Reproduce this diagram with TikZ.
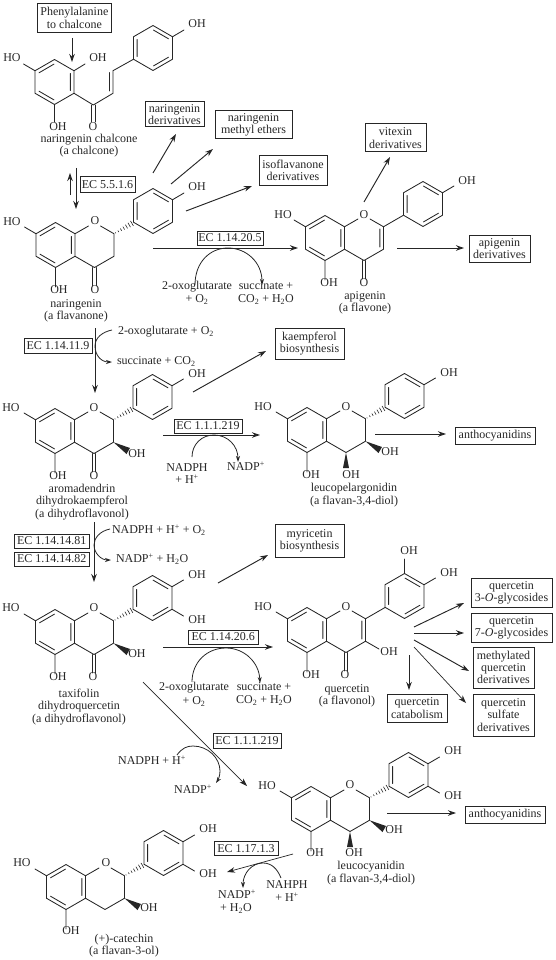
\documentclass[tikz,border=0pt]{standalone}
\usepackage{fontspec}
\setmainfont{Liberation Serif}
\usetikzlibrary{arrows.meta}
\newcounter{lbn}
\tikzset{
  x=1pt,y=-1pt,
  bond/.style={line width=0.85pt,line cap=round,line join=round,black!85},
  lab/.style={inner sep=0pt,outer sep=0pt,text height=8pt,text depth=2.6pt,font=\fontsize{12}{12.3}\selectfont,text=black!85},
  boxst/.style={draw=black!85,line width=1pt,inner sep=0pt,outer sep=0pt,align=center,font=\fontsize{12}{12.3}\selectfont,text=black!85},
  arr/.style={line width=0.95pt,black!85,-{Stealth[length=8pt,width=5.5pt]}},
  thinarr/.style={line width=0.7pt,black!85,-{Stealth[length=8pt,width=5.5pt]}},
  cur/.style={line width=0.8pt,black!85,-{Stealth[length=6pt,width=4pt]}},
}
% label
\newcommand{\lbl}[3]{\stepcounter{lbn}\node[lab] (lb\thelbn) at (#1,#2) {#3};}
% box from corners
\newcommand{\bx}[6]{\pgfmathsetmacro{\bw}{#4-#2}\pgfmathsetmacro{\bh}{#5-#3}%
  \node[boxst,minimum width=\bw pt,minimum height=\bh pt] (#1) at ({(#2+#4)/2},{(#3+#5)/2}) {#6};}
% straight arrow between named free-end coordinates
\newcommand{\arw}[4][arr]{\coordinate (#2a) at (#3);\coordinate (#2b) at (#4);\draw[#1] (#2a) -- (#2b);}
% rings
\newcommand{\ringA}{%
  \draw[bond] (0,-22.5)--(19.5,-11.25)--(19.5,11.25)--(0,22.5)--(-19.5,11.25)--(-19.5,-11.25)--cycle;
  \draw[bond] (-15.5,-9.2)--(-0.5,-17.9) (15.9,-8.5)--(15.9,8.5) (-15.5,9.2)--(-0.5,17.9);}
\newcommand{\ringB}{%
  \draw[bond] (0,-22.5)--(19.5,-11.25)--(19.5,11.25)--(0,22.5)--(-19.5,11.25)--(-19.5,-11.25)--cycle;
  \draw[bond] (-15.9,-8.5)--(-15.9,8.5) (0.5,-17.9)--(15.5,-9.2) (0.5,17.9)--(15.5,9.2);}
% common A ring + pyran, HO and OH stubs
\newcommand{\pyran}{%
  \ringA
  \draw[bond] (19.5,-11.25)--(33,-19) (45,-19)--(58.5,-11.25)--(58.5,11.25)--(39,22.5)--(19.5,11.25);
  \draw[bond] (-19.5,-11.25)--(-31,-18) (0,22.5)--(0,42);}
\newcommand{\hashb}{%
  \foreach \t in {0.08,0.22,0.36,0.50,0.64,0.78,0.92}{%
    \pgfmathsetmacro{\hx}{58.5+19.5*\t}\pgfmathsetmacro{\hy}{-11.25-11.25*\t}\pgfmathsetmacro{\hw}{0.3+2.8*\t}
    \draw[line width=0.6pt,black!85] ({\hx-0.5*\hw},{\hy-0.866*\hw})--({\hx+0.5*\hw},{\hy+0.866*\hw});}}
\newcommand{\ketone}{\draw[bond] (37.3,22.5)--(37.3,41) (40.9,22.5)--(40.9,41);}
\newcommand{\wedgeC}{\fill[black!85] (58.5,11.25)--(75,17)--(71.5,23)--cycle;}
\newcommand{\wedgeD}{\fill[black!85] (39,22.5)--(36,38)--(42,38)--cycle;}
\newcommand{\ohTop}{\draw[bond] (0,-22.5)--(0,-37);}
\newcommand{\ohUR}{\draw[bond] (19.5,-11.25)--(31,-18);}
\newcommand{\ohLR}{\draw[bond] (19.5,11.25)--(31,18);}
\begin{document}
\begin{tikzpicture}
\useasboundingbox (0,0) rectangle (556,960);
% ---------- chalcone
\begin{scope}[shift={(54.5,82)}]\ringA\end{scope}
\begin{scope}[shift={(153,48)}]\ringB\ohUR\end{scope}
\draw[bond] (74,93.25)--(93.3,105)--(113,93.3)--(113,70.7)--(133.5,59.25);
\draw[bond] (109.5,91)--(109.5,72.5);
\draw[bond] (91.5,105)--(91.5,122) (95.1,105)--(95.1,122);
\draw[bond] (35,70.75)--(23.5,64) (74,70.75)--(85,64) (54.5,104.5)--(54.5,122);
\lbl{12}{59}{HO}\lbl{98}{59}{OH}\lbl{58}{128}{OH}\lbl{93}{128}{O}\lbl{197}{25}{OH}
\lbl{89}{140}{naringenin chalcone}\lbl{89}{152}{(a chalcone)}
% ---------- naringenin
\begin{scope}[shift={(55.5,245)}]\pyran\ketone\hashb\end{scope}
\begin{scope}[shift={(153,211)}]\ringB\ohUR\end{scope}
\lbl{12}{223}{HO}\lbl{95}{222}{O}\lbl{197}{188}{OH}\lbl{59}{291}{OH}\lbl{95}{291}{O}
\lbl{76}{305}{naringenin}\lbl{76}{317}{(a flavanone)}
% ---------- apigenin
\begin{scope}[shift={(325,238)}]\pyran\ketone
  \draw[bond] (58.5,-11.25)--(78,-22.5) (54.9,-9)--(54.9,9);\end{scope}
\begin{scope}[shift={(423,204)}]\ringB\ohUR\end{scope}
\lbl{283}{216}{HO}\lbl{364}{216}{O}\lbl{467}{182}{OH}\lbl{329}{284}{OH}\lbl{364}{284}{O}
\lbl{365}{297}{apigenin}\lbl{365}{309}{(a flavone)}
% ---------- aromadendrin
\begin{scope}[shift={(55,431)}]\pyran\ketone\hashb\wedgeC\end{scope}
\begin{scope}[shift={(152.5,397)}]\ringB\ohUR\end{scope}
\lbl{11}{409}{HO}\lbl{94}{409}{O}\lbl{197}{375}{OH}\lbl{137}{455}{OH}\lbl{58}{477}{OH}\lbl{94}{477}{O}
\lbl{82}{490}{aromadendrin}\lbl{82}{502}{dihydrokaempferol}\lbl{82}{515}{(a dihydroflavonol)}
% ---------- leucopelargonidin
\begin{scope}[shift={(307,430)}]\pyran\hashb\wedgeC\wedgeD\end{scope}
\begin{scope}[shift={(404.5,396)}]\ringB\ohUR\end{scope}
\lbl{263}{408}{HO}\lbl{346}{408}{O}\lbl{449}{374}{OH}\lbl{390}{453}{OH}\lbl{311}{476}{OH}\lbl{351}{476}{OH}
\lbl{354}{489}{leucopelargonidin}\lbl{354}{502}{(a flavan-3,4-diol)}
% ---------- taxifolin
\begin{scope}[shift={(55,632)}]\pyran\ketone\hashb\wedgeC\end{scope}
\begin{scope}[shift={(152.5,598)}]\ringB\ohUR\ohLR\end{scope}
\lbl{11}{609}{HO}\lbl{94}{609}{O}\lbl{197}{576}{OH}\lbl{197}{621}{OH}\lbl{137}{655}{OH}\lbl{58}{678}{OH}\lbl{93}{678}{O}
\lbl{79}{695}{taxifolin}\lbl{79}{707}{dihydroquercetin}\lbl{79}{720}{(a dihydroflavonol)}
% ---------- quercetin
\begin{scope}[shift={(307,630)}]\pyran\ketone
  \draw[bond] (58.5,-11.25)--(78,-22.5) (54.9,-9)--(54.9,9) (58.5,11.25)--(72,19);\end{scope}
\begin{scope}[shift={(404.5,596)}]\ringB\ohUR\ohTop\end{scope}
\lbl{263}{608}{HO}\lbl{346}{608}{O}\lbl{409}{552}{OH}\lbl{449}{574}{OH}\lbl{389}{653}{OH}\lbl{311}{676}{OH}\lbl{345}{676}{O}
\lbl{347}{690}{quercetin}\lbl{347}{702}{(a flavonol)}
% ---------- leucocyanidin
\begin{scope}[shift={(311,809)}]\pyran\hashb\wedgeC\wedgeD\end{scope}
\begin{scope}[shift={(408.5,775)}]\ringB\ohUR\ohLR\end{scope}
\lbl{267}{787}{HO}\lbl{350}{786}{O}\lbl{453}{752}{OH}\lbl{453}{797}{OH}\lbl{394}{831}{OH}\lbl{315}{854}{OH}\lbl{354}{854}{OH}
\lbl{371}{867}{leucocyanidin}\lbl{371}{880}{(a flavan-3,4-diol)}
% ---------- catechin
\begin{scope}[shift={(66,887)}]\pyran\hashb\wedgeC\end{scope}
\begin{scope}[shift={(163.5,853)}]\ringB\ohUR\ohLR\end{scope}
\lbl{22}{864}{HO}\lbl{106}{864}{O}\lbl{208}{830}{OH}\lbl{208}{875}{OH}\lbl{149}{909}{OH}\lbl{71}{932}{OH}
\lbl{124}{940}{(+)-catechin}\lbl{124}{952}{(a flavan-3-ol)}
% ---------- boxes
\bx{phe}{37.7}{3.7}{111}{32.3}{Phenylalanine\\to chalcone}
\bx{ngd}{145}{102}{204}{127}{naringenin\\derivatives}
\bx{nme}{215}{111}{292}{139}{naringenin\\methyl ethers}
\bx{iso}{259}{156}{327}{185}{isoflavanone\\derivatives}
\bx{vit}{365}{124}{426}{152}{vitexin\\derivatives}
\bx{apd}{469}{235}{530}{262}{apigenin\\derivatives}
\bx{ec1}{80}{177}{135}{192}{EC 5.5.1.6}
\bx{ec2}{197}{231}{263}{245}{EC 1.14.20.5}
\bx{ec3}{24}{338}{92}{353}{EC 1.14.11.9}
\bx{kae}{275}{328}{344}{359}{kaempferol\\biosynthesis}
\bx{ec4}{174}{419}{242}{433}{EC 1.1.1.219}
\bx{an1}{455}{427}{535}{444}{anthocyanidins}
\bx{ec5}{14.5}{534}{89}{548}{EC 1.14.14.81}
\bx{ec6}{14.5}{552}{89}{566}{EC 1.14.14.82}
\bx{myr}{275}{524}{344}{557}{myricetin\\biosynthesis}
\bx{ec7}{188.5}{630}{258}{644}{EC 1.14.20.6}
\bx{q3}{471}{578}{552}{607}{quercetin\\3-\textit{O}-glycosides}
\bx{q7}{471}{613}{552}{642}{quercetin\\7-\textit{O}-glycosides}
\bx{qme}{473}{647}{534}{688}{methylated\\quercetin\\derivatives}
\bx{qsu}{473}{694}{534}{736}{quercetin\\sulfate\\derivatives}
\bx{qca}{387}{694}{447}{722}{quercetin\\catabolism}
\bx{ec8}{213}{733.5}{281}{748}{EC 1.1.1.219}
\bx{an2}{465}{806}{545}{823}{anthocyanidins}
\bx{ec9}{214}{841}{278}{855.5}{EC 1.17.1.3}
% ---------- cofactor texts
\lbl{197}{287}{2-oxoglutarate}\lbl{197}{300}{+ O\textsubscript{2}}
\lbl{266}{287}{succinate +}\lbl{266}{300}{CO\textsubscript{2} + H\textsubscript{2}O}
\node[lab,anchor=west] (t1) at (118,332) {2-oxoglutarate + O\textsubscript{2}};
\node[lab,anchor=west] (t2) at (117,362) {succinate + CO\textsubscript{2}};
\lbl{187}{469}{NADPH}\lbl{187}{481}{+ H\textsuperscript{+}}\lbl{246}{468}{NADP\textsuperscript{+}}
\node[lab,anchor=west] (t3) at (112,531) {NADPH + H\textsuperscript{+} + O\textsubscript{2}};
\node[lab,anchor=west] (t4) at (116,560) {NADP\textsuperscript{+} + H\textsubscript{2}O};
\lbl{194}{688}{2-oxoglutarate}\lbl{194}{702}{+ O\textsubscript{2}}
\lbl{264}{688}{succinate +}\lbl{264}{701}{CO\textsubscript{2} + H\textsubscript{2}O}
\lbl{152}{762}{NADPH + H\textsuperscript{+}}\lbl{193}{791}{NADP\textsuperscript{+}}
\lbl{237}{896}{NADP\textsuperscript{+}}\lbl{236}{909}{+ H\textsubscript{2}O}
\lbl{287}{886}{NAHPH}\lbl{287}{899}{+ H\textsuperscript{+}}
% ---------- arrows
\arw{a1}{72,38}{72,62}
\arw{a2}{76,168}{76,209}
\arw{a3}{70,195}{70,173}
\arw{a4}{153,173}{176,134}
\arw{a5}{171,184}{213,149}
\arw{a6}{186,211}{252,186}
\arw{a7}{153,248}{298,248}
\arw{a8}{364,202}{390,157}
\arw{a9}{397,248}{464,248}
\arw{a10}{95,328}{95,393}
\arw{a11}{193,392}{266,351}
\arw{a12}{163,435}{260,435}
\arw{a13}{375,434}{446,434}
\arw{a14}{94,522}{94,582}
\arw{a15}{218,583}{268,555}
\arw{a16}{163,647}{273,647}
\arw{a17}{414,627}{464,603}
\arw{a18}{414,633}{464,633}
\arw{a19}{414,640}{469,671}
\arw[thinarr]{a20}{414,647}{466,703}
\arw{a21}{409,655}{409,690}
\arw[thinarr]{a22}{143,682}{247,786}
\arw{a23}{387,813}{456,813}
\arw[thinarr]{a24}{293,854}{227,872}
% ---------- curved cofactor arrows
\coordinate (c1a) at (195,285);\coordinate (c1b) at (262,285);
\draw[cur] (c1a) .. controls (195,262) and (210,248) .. (228,248) .. controls (246,248) and (262,262) .. (c1b);
\coordinate (c2a) at (112,330);\coordinate (c2b) at (112,362);
\draw[cur] (c2a) .. controls (102,332) and (95,338) .. (95,346) .. controls (95,355) and (101,362) .. (c2b);
\coordinate (c3a) at (192,457);\coordinate (c3b) at (238,462);
\draw[cur] (c3a) .. controls (192,444) and (202,435) .. (214,435) .. controls (228,435) and (238,446) .. (c3b);
\coordinate (c4a) at (110,529);\coordinate (c4b) at (111,560);
\draw[cur] (c4a) .. controls (100,531) and (94,538) .. (94,545) .. controls (94,553) and (101,560) .. (c4b);
\coordinate (c5a) at (192,682);\coordinate (c5b) at (260,683);
\draw[cur] (c5a) .. controls (192,662) and (207,648) .. (226,648) .. controls (244,648) and (259,662) .. (c5b);
\coordinate (c6a) at (177,755);\coordinate (c6b) at (216,783);
\draw[cur] (c6a) .. controls (182,748) and (187,746) .. (193,746) .. controls (208,746) and (220,758) .. (220,771) .. controls (220,776) and (218,780) .. (c6b);
\coordinate (c7a) at (281,878);\coordinate (c7b) at (243,888);
\draw[cur] (c7a) .. controls (277,868) and (271,863) .. (263,863) .. controls (252,863) and (243,873) .. (c7b);
\end{tikzpicture}
\end{document}
